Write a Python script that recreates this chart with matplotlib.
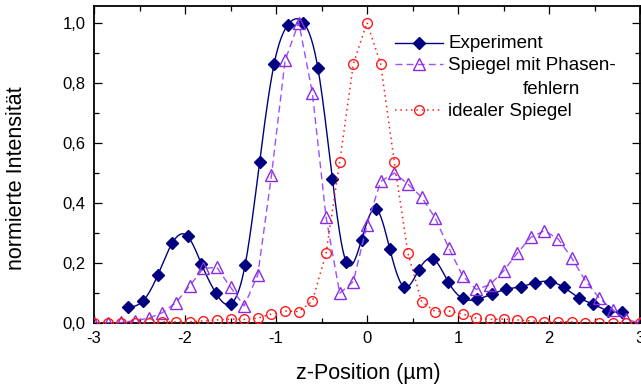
import numpy as np
import matplotlib
matplotlib.use("Agg")
import matplotlib.pyplot as plt
from matplotlib.lines import Line2D
from matplotlib.ticker import MultipleLocator, FuncFormatter

plt.rcParams['font.family'] = ['Liberation Sans', 'DejaVu Sans']
plt.rcParams['axes.unicode_minus'] = False

# ---- data ----
x_exp = [-2.63, -2.46, -2.30, -2.14, -1.97, -1.82, -1.66, -1.50, -1.34, -1.18,
         -1.02, -0.87, -0.70, -0.54, -0.38, -0.23, -0.06, 0.10, 0.25, 0.41,
         0.57, 0.73, 0.89, 1.05, 1.21, 1.37, 1.53, 1.69, 1.85, 2.01,
         2.16, 2.33, 2.48, 2.65, 2.80]
y_exp = [0.052, 0.074, 0.159, 0.266, 0.288, 0.197, 0.099, 0.063, 0.192, 0.536,
         0.863, 0.992, 1.000, 0.849, 0.479, 0.204, 0.277, 0.380, 0.247, 0.119,
         0.177, 0.213, 0.138, 0.082, 0.079, 0.096, 0.112, 0.121, 0.134, 0.138,
         0.119, 0.084, 0.063, 0.041, 0.036]

x_sim = [-3.00, -2.85, -2.70, -2.55, -2.40, -2.25, -2.10, -1.95, -1.80, -1.65,
         -1.50, -1.35, -1.20, -1.05, -0.90, -0.75, -0.60, -0.45, -0.30, -0.15,
         0.00, 0.15, 0.30, 0.45, 0.60, 0.75, 0.90, 1.05, 1.20, 1.35,
         1.50, 1.65, 1.80, 1.95, 2.10, 2.25, 2.40, 2.55, 2.70, 2.85, 3.00]
y_phase = [0.000, 0.000, 0.002, 0.008, 0.016, 0.034, 0.068, 0.123, 0.182, 0.185,
           0.119, 0.057, 0.160, 0.491, 0.874, 1.000, 0.765, 0.352, 0.099, 0.138,
           0.327, 0.471, 0.499, 0.462, 0.419, 0.349, 0.249, 0.157, 0.112, 0.127,
           0.173, 0.232, 0.285, 0.307, 0.280, 0.216, 0.141, 0.084, 0.043, 0.012, 0.000]
y_ideal = [0.000, 0.000, 0.000, 0.000, 0.000, 0.004, 0.004, 0.004, 0.007, 0.010,
           0.013, 0.012, 0.016, 0.030, 0.040, 0.038, 0.073, 0.232, 0.536, 0.862,
           1.000, 0.862, 0.536, 0.232, 0.071, 0.038, 0.040, 0.030, 0.016, 0.012,
           0.013, 0.010, 0.007, 0.004, 0.004, 0.004, 0.000, 0.000, 0.000, 0.000, 0.000]

labels = ["Experiment", "Spiegel mit Phasen-", "fehlern", "idealer Spiegel"]
xticks = [-3, -2, -1, 0, 1, 2, 3]
yticks = [0.0, 0.2, 0.4, 0.6, 0.8, 1.0]

c_exp = '#000080'
c_phase = '#8a2be2'
c_phase_line = '#9a50ff'
c_ideal = '#ff1a1a'


def natural_spline(x, y, n=600):
    x = np.asarray(x, float)
    y = np.asarray(y, float)
    m = len(x)
    h = np.diff(x)
    A = np.zeros((m, m))
    b = np.zeros(m)
    A[0, 0] = 1
    A[-1, -1] = 1
    for i in range(1, m - 1):
        A[i, i - 1] = h[i - 1]
        A[i, i] = 2 * (h[i - 1] + h[i])
        A[i, i + 1] = h[i]
        b[i] = 3 * ((y[i + 1] - y[i]) / h[i] - (y[i] - y[i - 1]) / h[i - 1])
    c = np.linalg.solve(A, b)
    xs = np.linspace(x[0], x[-1], n)
    idx = np.clip(np.searchsorted(x, xs) - 1, 0, m - 2)
    hi = h[idx]
    bb = (y[idx + 1] - y[idx]) / hi - hi * (2 * c[idx] + c[idx + 1]) / 3
    dd = (c[idx + 1] - c[idx]) / (3 * hi)
    t = xs - x[idx]
    ys = y[idx] + bb * t + c[idx] * t ** 2 + dd * t ** 3
    return xs, ys


W, H = 641, 387
fig = plt.figure(figsize=(W / 100, H / 100), dpi=100)
ax = fig.add_axes([94 / W, 1 - 323 / H, (640 - 94) / W, (323 - 6) / H])

xs, ys = natural_spline(x_exp, y_exp)
ax.plot(xs, ys, color=c_exp, lw=1.0, zorder=3)
ax.plot(x_exp, y_exp, ls='none', marker='D', ms=6.2, color=c_exp, mec=c_exp, zorder=3)

ax.plot(x_sim, y_phase, ls=(0, (5, 3)), lw=1.0, color=c_phase_line, zorder=4)
ax.plot(x_sim, y_phase, ls='none', marker='^', ms=8, mfc='none', mec=c_phase, mew=1.0, zorder=4)

ax.plot(x_sim, y_ideal, ls=(0, (1, 2.5)), lw=1.1, color=c_ideal, zorder=5)
ax.plot(x_sim, y_ideal, ls='none', marker='o', ms=7, mfc='none', mec=c_ideal, mew=1.0, zorder=5)

ax.set_xlim(-3, 3)
ax.set_ylim(0, 1.055)
ax.set_xticks(xticks)
ax.set_xticklabels([str(v) for v in xticks])
ax.set_yticks(yticks)
ax.yaxis.set_major_formatter(FuncFormatter(lambda v, p: f"{v:.1f}".replace('.', ',')))
ax.xaxis.set_minor_locator(MultipleLocator(0.5))
ax.yaxis.set_minor_locator(MultipleLocator(0.1))
ax.tick_params(which='both', direction='in', top=True, right=True, width=0.9, colors='black')
ax.tick_params(which='major', length=6, labelsize=12, pad=6)
ax.tick_params(which='minor', length=3.5)
for s in ax.spines.values():
    s.set_linewidth(1.3)


def fx(px):
    return px / W


def fy(py):
    return 1 - py / H


fig.text(fx(368), fy(373), "z-Position (µm)", fontsize=15.5, ha='center', va='center')
fig.text(fx(17), fy(178), "normierte Intensität", rotation=90, fontsize=15.5,
         ha='center', va='center')

# manual legend
rows = [43, 64, 110]
styles = [
    dict(color=c_exp, lw=1.0, ls='-', marker='D', ms=6.2, mfc=c_exp, mec=c_exp),
    dict(color=c_phase_line, lw=1.0, ls=(0, (5, 3)), marker='^', ms=8, mfc='none', mec=c_phase),
    dict(color=c_ideal, lw=1.1, ls=(0, (1, 2.5)), marker='o', ms=7, mfc='none', mec=c_ideal),
]
for r, st in zip(rows, styles):
    ln = Line2D([fx(395), fx(443)], [fy(r), fy(r)], transform=fig.transFigure,
                color=st['color'], lw=st['lw'], ls=st['ls'])
    fig.add_artist(ln)
    mk = Line2D([fx(419)], [fy(r)], transform=fig.transFigure, ls='none',
                marker=st['marker'], ms=st['ms'], mfc=st['mfc'], mec=st['mec'], mew=1.0)
    fig.add_artist(mk)

lf = 13.5
fig.text(fx(448), fy(43), labels[0], fontsize=lf, ha='left', va='center')
fig.text(fx(448), fy(66), labels[1], fontsize=lf, ha='left', va='center')
fig.text(fx(580), fy(90), labels[2], fontsize=lf, ha='right', va='center')
fig.text(fx(448), fy(111), labels[3], fontsize=lf, ha='left', va='center')

fig.savefig("out.png", dpi=100)
